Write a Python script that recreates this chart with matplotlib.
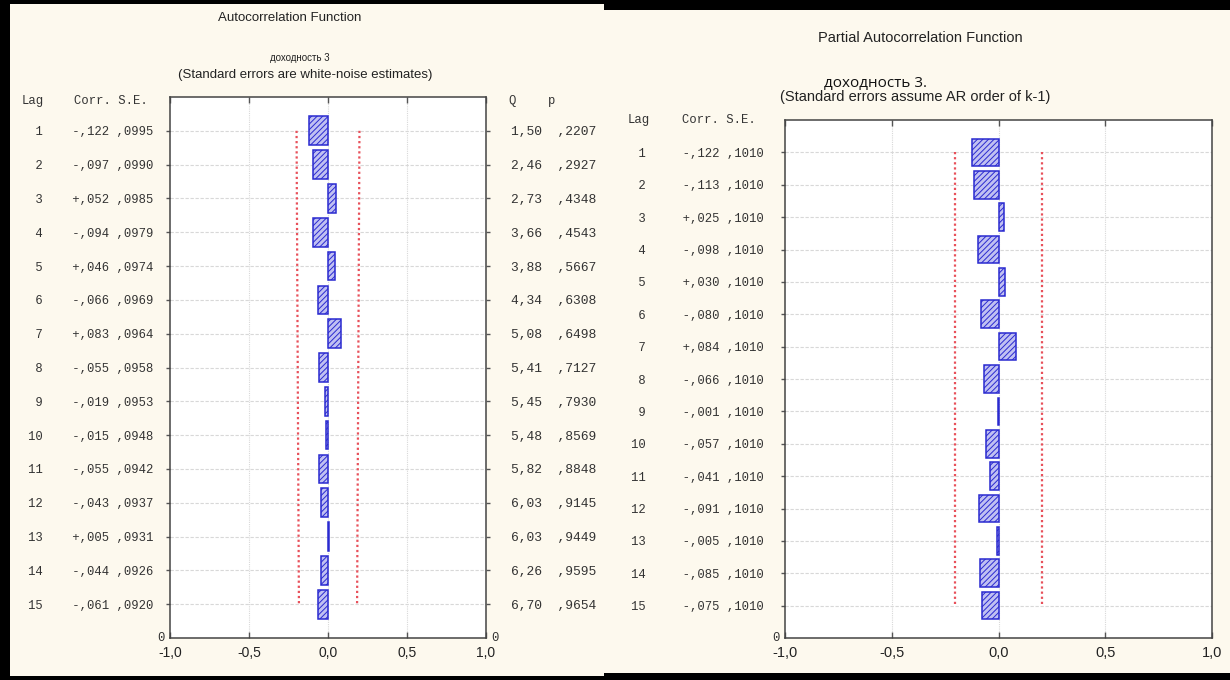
import matplotlib
matplotlib.use("Agg")
import matplotlib.pyplot as plt
from matplotlib.patches import Rectangle
import numpy as np

plt.rcParams['hatch.linewidth'] = 0.7

# ---------------- data ----------------
lags = list(range(1, 16))

acf_corr = [-0.122, -0.097, 0.052, -0.094, 0.046, -0.066, 0.083, -0.055,
            -0.019, -0.015, -0.055, -0.043, 0.005, -0.044, -0.061]
acf_corr_txt = ["-,122", "-,097", "+,052", "-,094", "+,046", "-,066", "+,083", "-,055",
                "-,019", "-,015", "-,055", "-,043", "+,005", "-,044", "-,061"]
acf_se = [0.0995, 0.0990, 0.0985, 0.0979, 0.0974, 0.0969, 0.0964, 0.0958,
          0.0953, 0.0948, 0.0942, 0.0937, 0.0931, 0.0926, 0.0920]
acf_se_txt = [",0995", ",0990", ",0985", ",0979", ",0974", ",0969", ",0964", ",0958",
              ",0953", ",0948", ",0942", ",0937", ",0931", ",0926", ",0920"]
acf_q_txt = ["1,50", "2,46", "2,73", "3,66", "3,88", "4,34", "5,08", "5,41",
             "5,45", "5,48", "5,82", "6,03", "6,03", "6,26", "6,70"]
acf_p_txt = [",2207", ",2927", ",4348", ",4543", ",5667", ",6308", ",6498", ",7127",
             ",7930", ",8569", ",8848", ",9145", ",9449", ",9595", ",9654"]

pacf_corr = [-0.122, -0.113, 0.025, -0.098, 0.030, -0.080, 0.084, -0.066,
             -0.001, -0.057, -0.041, -0.091, -0.005, -0.085, -0.075]
pacf_corr_txt = ["-,122", "-,113", "+,025", "-,098", "+,030", "-,080", "+,084", "-,066",
                 "-,001", "-,057", "-,041", "-,091", "-,005", "-,085", "-,075"]
pacf_se = [0.1010] * 15
pacf_se_txt = [",1010"] * 15

xticks = [-1.0, -0.5, 0.0, 0.5, 1.0]
xtick_labels = ["-1,0", "-0,5", "0,0", "0,5", "1,0"]

# ---------------- figure ----------------
W, H = 1230, 680
fig = plt.figure(figsize=(W / 100, H / 100), dpi=100, facecolor='black')

CREAM = '#fdf9ee'
MONO = ['Liberation Mono', 'DejaVu Sans Mono']
SANS = ['Liberation Sans Narrow', 'Liberation Sans', 'DejaVu Sans']
TXT = '#333333'


def fx(px):
    return px / W


def fy(py):
    return 1 - py / H


def panel(x0, y0, x1, y1):
    fig.add_artist(Rectangle((fx(x0), fy(y1)), fx(x1) - fx(x0), fy(y0) - fy(y1),
                             transform=fig.transFigure, facecolor=CREAM,
                             edgecolor='none', zorder=0))


panel(10, 4, 604, 676)
panel(604, 10, 1230, 673)

BAR_FACE = '#c0c0f2'
BAR_EDGE = '#2a2ad0'
RED = '#e8505a'
GRID = '#d8d8d8'


def draw(ax, corr, se, left_labels, left_pad, right_labels, right_pad, fsz, xfsz):
    pos = [16 - l for l in lags]
    ax.set_facecolor('white')
    ax.set_xlim(-1, 1)
    ax.set_ylim(0, 16)
    ax.barh(pos, corr, height=0.85, left=0, facecolor=BAR_FACE,
            edgecolor=BAR_EDGE, hatch='//////', linewidth=1.1, zorder=3)
    lim = [2 * s for s in se]
    ax.plot(lim, pos, linestyle=(0, (1, 1.3)), color=RED, lw=1.6, zorder=2)
    ax.plot([-v for v in lim], pos, linestyle=(0, (1, 1.3)), color=RED, lw=1.6, zorder=2)
    for p in pos:
        ax.axhline(p, color=GRID, lw=0.8, ls=(0, (3, 1.5)), zorder=1)
    for xv in [-0.5, 0.0, 0.5]:
        ax.axvline(xv, color=GRID, lw=0.8, ls=(0, (1, 1)), zorder=1)
    ax.set_xticks(xticks)
    ax.set_xticklabels(xtick_labels, family=SANS, fontsize=xfsz, color='#222222')
    ax.tick_params(axis='x', direction='in', top=True, bottom=True, length=4,
                   width=1, color='#555555', pad=6)
    ax.set_yticks(pos)
    ax.set_yticklabels(left_labels, family=MONO, fontsize=fsz, color=TXT)
    ax.tick_params(axis='y', direction='out', length=3, width=1, color='#555555',
                   pad=left_pad)
    for s in ax.spines.values():
        s.set_color('#444444')
        s.set_linewidth(1.1)
    # bottom "0" label of the lag axis
    ax.annotate("0", xy=(0, 0), xycoords='axes fraction', xytext=(-4, 0),
                textcoords='offset points', ha='right', va='center',
                family=MONO, fontsize=fsz, color=TXT)
    if right_labels is not None:
        ax2 = ax.twinx()
        ax2.set_ylim(0, 16)
        ax2.set_yticks(pos)
        ax2.set_yticklabels(right_labels, family=MONO, fontsize=fsz + 0.6, color=TXT)
        ax2.tick_params(axis='y', direction='out', length=3, width=1, color='#555555',
                        pad=right_pad)
        for s in ax2.spines.values():
            s.set_visible(False)
        ax.annotate("0", xy=(1, 0), xycoords='axes fraction', xytext=(4, 0),
                    textcoords='offset points', ha='left', va='center',
                    family=MONO, fontsize=fsz, color=TXT)


# ---------- left panel: ACF ----------
axL = fig.add_axes([fx(170), fy(638), fx(486) - fx(170), fy(97) - fy(638)])
left_lab = [f"{l:>2}    {c} {s}" for l, c, s in zip(lags, acf_corr_txt, acf_se_txt)]
right_lab = [f"{q}  {p}" for q, p in zip(acf_q_txt, acf_p_txt)]
draw(axL, acf_corr, acf_se, left_lab, 9, right_lab, 15, 8.8, 10)

fig.text(fx(290), fy(18), "Autocorrelation Function", family=SANS, fontsize=9.5,
         ha='center', va='center', color='#222222')
fig.text(fx(300), fy(58), "доходность 3", family=SANS, fontsize=7,
         ha='center', va='center', color='#222222')
fig.text(fx(305), fy(75), "(Standard errors are white-noise estimates)", family=SANS,
         fontsize=9.5, ha='center', va='center', color='#222222')
fig.text(fx(22), fy(101), "Lag", family=MONO, fontsize=8.8, ha='left', va='center', color=TXT)
fig.text(fx(74), fy(101), "Corr. S.E.", family=MONO, fontsize=8.8, ha='left', va='center', color=TXT)
fig.text(fx(508), fy(101), "Q", family=MONO, fontsize=8.8, ha='left', va='center', color=TXT)
fig.text(fx(548), fy(101), "p", family=MONO, fontsize=8.8, ha='left', va='center', color=TXT)

# ---------- right panel: PACF ----------
axR = fig.add_axes([fx(785), fy(638), fx(1212) - fx(785), fy(120) - fy(638)])
left_lab2 = [f"{l:>2}     {c} {s}" for l, c, s in zip(lags, pacf_corr_txt, pacf_se_txt)]
draw(axR, pacf_corr, pacf_se, left_lab2, 12, None, 0, 8.8, 10.5)

fig.text(fx(920), fy(38), "Partial Autocorrelation Function", family=SANS, fontsize=10.5,
         ha='center', va='center', color='#222222')
fig.text(fx(875), fy(84), "доходность 3.", family=['Open Sans', 'DejaVu Sans'], fontsize=11,
         ha='center', va='center', color='#111111')
fig.text(fx(915), fy(97), "(Standard errors assume AR order of k-1)", family=SANS,
         fontsize=10.5, ha='center', va='center', color='#222222')
fig.text(fx(628), fy(120), "Lag", family=MONO, fontsize=8.8, ha='left', va='center', color=TXT)
fig.text(fx(682), fy(120), "Corr. S.E.", family=MONO, fontsize=8.8, ha='left', va='center', color=TXT)

fig.savefig("out.png", dpi=100, facecolor=fig.get_facecolor())
